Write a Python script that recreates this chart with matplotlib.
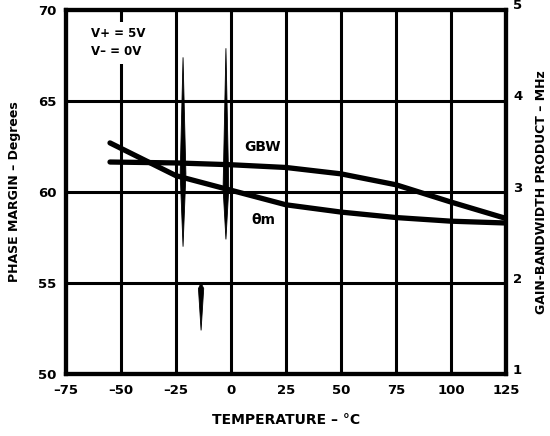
import matplotlib
matplotlib.use("Agg")
import matplotlib.pyplot as plt
import matplotlib.transforms as mtransforms
import numpy as np

plt.rcParams['font.family'] = ['DejaVu Sans']
plt.rcParams['font.weight'] = 'bold'

# --------------- data ---------------
temp = [-55, -25, 0, 25, 50, 75, 100, 125]
phase_margin = [62.7, 60.9, 60.1, 59.3, 58.9, 58.6, 58.4, 58.3]      # degrees
gbw = [3.33, 3.32, 3.30, 3.27, 3.20, 3.08, 2.89, 2.71]               # MHz

x_ticks = [-75, -50, -25, 0, 25, 50, 75, 100, 125]
x_labels = ['\u201375', '\u201350', '\u201325', '0', '25', '50', '75', '100', '125']
pm_ticks = [50, 55, 60, 65, 70]
gbw_ticks = [1, 2, 3, 4, 5]

# scan smudges in the original sheet (temp, top deg, widest deg, bottom deg, half width)
smudge_x = [-21.8, -2.3, -13.6]
smudge_top = [67.4, 67.9, 55.0]
smudge_mid = [61.0, 60.2, 54.7]
smudge_bot = [57.0, 57.4, 52.4]
smudge_w = [1.3, 1.3, 1.2]

# --------------- figure ---------------
fig = plt.figure(figsize=(5.5, 4.36), dpi=100)
ax = fig.add_axes([0.12, 0.142, 0.80, 0.835])
ax2 = ax.twinx()

ax.set_xlim(-75, 125)
ax.set_ylim(50, 70)
ax2.set_ylim(1, 5)

for t in x_ticks[1:-1]:
    ax.axvline(t, color='black', lw=2.2, zorder=1)
for p in pm_ticks[1:-1]:
    ax.axhline(p, color='black', lw=2.2, zorder=1)

ax.plot(temp, phase_margin, color='black', lw=3.8, solid_capstyle='round', zorder=3)
ax2.plot(temp, gbw, color='black', lw=3.8, solid_capstyle='round', zorder=3)

for x, top, mid, bot, w in zip(smudge_x, smudge_top, smudge_mid, smudge_bot, smudge_w):
    ax.fill([x, x + w, x, x - w], [top, mid, bot, mid], color='black', lw=0.6,
            edgecolor='black', zorder=2)

ax.set_xticks(x_ticks)
ax.set_xticklabels(x_labels)
ax.set_yticks(pm_ticks)
ax2.set_yticks(gbw_ticks)

ax.tick_params(length=0, labelsize=9.5, pad=7)
ax2.tick_params(length=0, labelsize=9.5, pad=5)
for a in (ax, ax2):
    for s in a.spines.values():
        s.set_linewidth(3)

# right-hand numbers sit a little above their grid lines in the original
shift = mtransforms.ScaledTranslation(0, 4 / 72, fig.dpi_scale_trans)
for lab in ax2.get_yticklabels():
    lab.set_transform(lab.get_transform() + shift)

ax.set_xlabel('TEMPERATURE \u2013 \u00b0C', fontsize=10, fontweight='bold', labelpad=12)
ax.set_ylabel('PHASE MARGIN \u2013 Degrees', fontsize=9, fontweight='bold', labelpad=12)
ax2.set_ylabel('GAIN-BANDWIDTH PRODUCT \u2013 MHz', fontsize=9, fontweight='bold',
               labelpad=9)

ax.text(-63.6, 68.2, 'V+ = 5V\nV\u2013 = 0V', fontsize=8.5, fontweight='bold',
        ha='left', va='center', linespacing=1.5, zorder=4,
        bbox=dict(facecolor='white', edgecolor='none', pad=4))
ax2.text(14.5, 3.49, 'GBW', fontsize=10, ha='center', va='center', fontweight='bold', zorder=4)
ax.text(14.5, 58.45, '\u03b8m', fontsize=10, ha='center', va='center', fontweight='bold', zorder=4)

fig.savefig('out.png', dpi=100)
